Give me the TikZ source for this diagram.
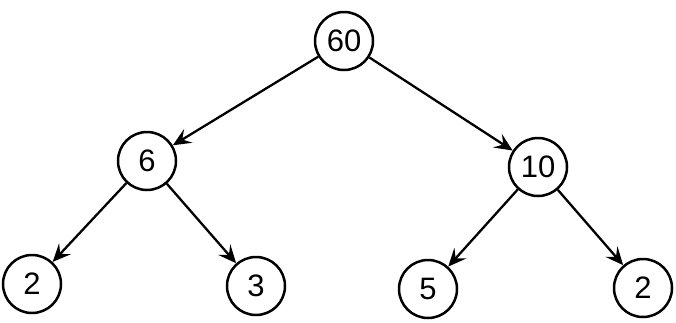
\documentclass[tikz,border=0pt]{standalone}
\usepackage{fontspec}
\setmainfont{Liberation Sans}
\usetikzlibrary{arrows.meta}
\begin{document}
\begin{tikzpicture}[x=1pt,y=-1pt,
  treenode/.style={circle,draw,line width=2.5pt,minimum size=58pt,inner sep=0pt,
    font=\fontsize{31}{33}\selectfont},
  edge/.style={line width=2.3pt,-{Stealth[length=18pt,width=16pt,inset=7pt]}}]
\useasboundingbox (0,0) rectangle (676,322);
\node[treenode] (r)  at (344,41)  {60};
\node[treenode] (a)  at (147,161) {6};
\node[treenode] (b)  at (538,167) {10};
\node[treenode] (aa) at (32,284)  {2};
\node[treenode] (ab) at (256,286) {3};
\node[treenode] (ba) at (428,289) {5};
\node[treenode] (bb) at (643,288) {2};
\draw[edge] (r) -- (a);
\draw[edge] (r) -- (b);
\draw[edge] (a) -- (aa);
\draw[edge] (a) -- (ab);
\draw[edge] (b) -- (ba);
\draw[edge] (b) -- (bb);
\end{tikzpicture}
\end{document}
